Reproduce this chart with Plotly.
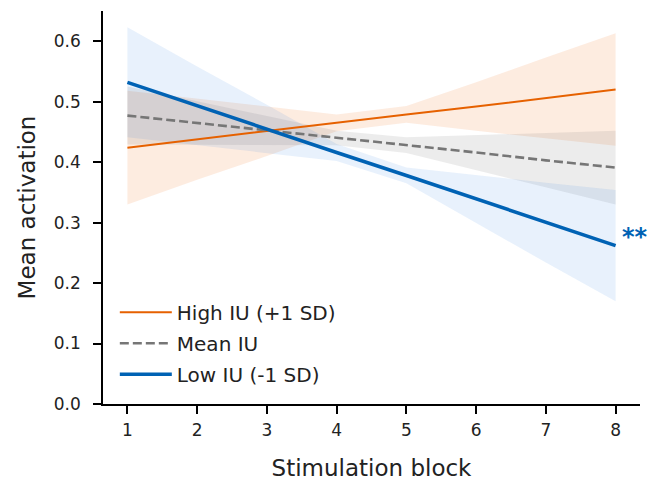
import plotly.graph_objects as go

# ---- data ----
blocks = [1, 2, 3, 4, 5, 6, 7, 8]
tick_vals_y = [0.0, 0.1, 0.2, 0.3, 0.4, 0.5, 0.6]

high_mean = [0.424, 0.438, 0.451, 0.465, 0.479, 0.492, 0.506, 0.520]
high_lo = [0.330, 0.371, 0.410, 0.451, 0.465, 0.452, 0.439, 0.427]
high_hi = [0.518, 0.505, 0.492, 0.479, 0.493, 0.532, 0.573, 0.613]

mean_mean = [0.477, 0.465, 0.452, 0.440, 0.428, 0.416, 0.403, 0.391]
mean_lo = [0.429, 0.429, 0.428, 0.428, 0.415, 0.387, 0.358, 0.330]
mean_hi = [0.525, 0.501, 0.476, 0.452, 0.441, 0.445, 0.448, 0.452]

low_mean = [0.532, 0.493, 0.455, 0.416, 0.378, 0.339, 0.300, 0.262]
low_lo = [0.441, 0.428, 0.415, 0.402, 0.365, 0.300, 0.234, 0.170]
low_hi = [0.623, 0.558, 0.495, 0.430, 0.391, 0.378, 0.366, 0.354]

labels = ["High IU (+1 SD)", "Mean IU", "Low IU (-1 SD)"]
sig_label = "**"

ORANGE = "#E66100"
GRAY = "#767676"
BLUE = "#0062B4"

FONT = "DejaVu Sans"

fig = go.Figure()


def band(lo, hi, color):
    fig.add_trace(go.Scatter(
        x=blocks + blocks[::-1], y=hi + lo[::-1], fill="toself",
        fillcolor=color, line=dict(width=0), mode="lines",
        hoverinfo="skip", showlegend=False))


band(high_lo, high_hi, "rgba(235,100,0,0.12)")
band(mean_lo, mean_hi, "rgba(110,110,110,0.13)")
band(low_lo, low_hi, "rgba(30,120,230,0.10)")

fig.add_trace(go.Scatter(x=blocks, y=high_mean, mode="lines", name=labels[0],
                         legendgroup="a", line=dict(color=ORANGE, width=2)))
fig.add_trace(go.Scatter(x=blocks, y=mean_mean, mode="lines", name=labels[1],
                         legendgroup="b",
                         line=dict(color=GRAY, width=2.6, dash="9px,4px")))
fig.add_trace(go.Scatter(x=blocks, y=low_mean, mode="lines", name=labels[2],
                         legendgroup="c", line=dict(color=BLUE, width=3.6)))

fig.add_annotation(x=8.07, y=0.277, text="<b>" + sig_label + "</b>", showarrow=False,
                   xanchor="left", yanchor="middle",
                   font=dict(family=FONT, size=24, color=BLUE))

fig.update_layout(
    width=649, height=481,
    margin=dict(l=103, r=9, t=11, b=77, autoexpand=False),
    paper_bgcolor="white", plot_bgcolor="white",
    font=dict(family=FONT, color="black"),
    legend=dict(x=0.022, y=0.283, xanchor="left", yanchor="top",
                font=dict(family=FONT, size=20, color="#222222"),
                bgcolor="rgba(0,0,0,0)", itemwidth=52, tracegroupgap=2),
    xaxis=dict(range=[0.65, 8.35], tickvals=blocks, automargin=False,
               showline=True, linecolor="black", linewidth=1.6,
               ticks="outside", ticklen=8, tickwidth=1.6, tickcolor="black",
               showgrid=False, zeroline=False, ticklabelstandoff=2,
               tickfont=dict(family=FONT, size=17, color="#222222"),
               title=dict(text="Stimulation block", standoff=22,
                          font=dict(family=FONT, size=23, color="#222222"))),
    yaxis=dict(range=[0, 0.65], tickvals=tick_vals_y, tickformat=".1f",
               automargin=False,
               showline=True, linecolor="black", linewidth=1.6,
               ticks="outside", ticklen=8, tickwidth=1.6, tickcolor="black",
               showgrid=False, zeroline=False, ticklabelstandoff=9,
               tickfont=dict(family=FONT, size=17, color="#222222"),
               title=dict(text="Mean activation", standoff=12,
                          font=dict(family=FONT, size=23, color="#222222"))),
)

fig.write_html("out.html", config={"displayModeBar": False},
               post_script="document.body.style.margin='0';")
